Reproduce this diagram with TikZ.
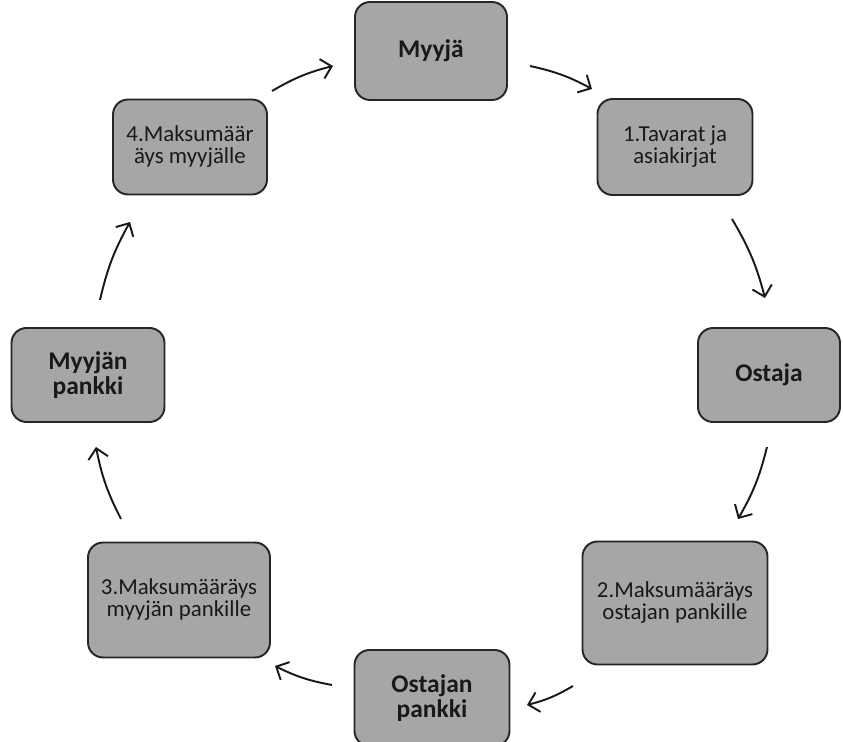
\documentclass[tikz,border=0pt]{standalone}
\usepackage{fontspec}
\setmainfont{Carlito}
\usepackage{xcolor}
\usetikzlibrary{arrows.meta,positioning}
\definecolor{boxgray}{RGB}{166,166,166}
\definecolor{edgegray}{RGB}{38,38,38}

\begin{document}
\begin{tikzpicture}[x=0.02cm, y=-0.02cm,
    stage/.style={rectangle, rounded corners=0.3cm, draw=edgegray, line width=1.1pt, fill=boxgray, align=center, font=\fontsize{13}{12.5}\selectfont, text=black!90},
    party/.style={stage, font=\fontsize{14.5}{14.5}\selectfont\bfseries},
    flow/.style={-{Straight Barb[length=2mm,width=4mm]}, line width=1.1pt, black!90}]
    \useasboundingbox (0,0) rectangle (843,742);

    % Parties
    \node[party, minimum width=3.04cm, minimum height=1.96cm] (myyja) at (431,51) {Myyjä};
    \node[party, minimum width=2.84cm, minimum height=1.88cm] (ostaja) at (769,375) {Ostaja};
    \node[party, minimum width=3.1cm, minimum height=1.92cm] (opankki) at (432,698) {Ostajan\\pankki};
    \node[party, minimum width=3.06cm, minimum height=1.88cm] (mpankki) at (88,375) {Myyjän\\pankki};

    % Steps
    \node[stage, minimum width=3.1cm, minimum height=1.92cm] (tavarat) at (675,147) {1.Tavarat ja\\asiakirjat};
    \node[stage, minimum width=3.7cm, minimum height=2.46cm] (maksu2) at (675,603) {2.Maksumääräys\\ostajan pankille};
    \node[stage, minimum width=3.64cm, minimum height=2.3cm] (maksu3) at (179,600) {3.Maksumääräys\\myyjän pankille};
    \node[stage, minimum width=3.08cm, minimum height=1.9cm] (maksu4) at (190,147) {4.Maksumäär\\äys myyjälle};

    % Arrow ends
    \coordinate (a1s) at (530,66);  \coordinate (a1e) at (592,89);
    \coordinate (a2s) at (732,219); \coordinate (a2e) at (765,298);
    \coordinate (a3s) at (767,447); \coordinate (a3e) at (738,519);
    \coordinate (a4s) at (573,686); \coordinate (a4e) at (527,705);
    \coordinate (a5s) at (332,685); \coordinate (a5e) at (275,666);
    \coordinate (a6s) at (121,519); \coordinate (a6e) at (96,447);
    \coordinate (a7s) at (100,300); \coordinate (a7e) at (130,222);
    \coordinate (a8s) at (272,91);  \coordinate (a8e) at (333,66);

    % Cycle
    \foreach \i in {1,...,8}
        \draw[flow] (a\i s) to[bend left=8] (a\i e);
\end{tikzpicture}
\end{document}
